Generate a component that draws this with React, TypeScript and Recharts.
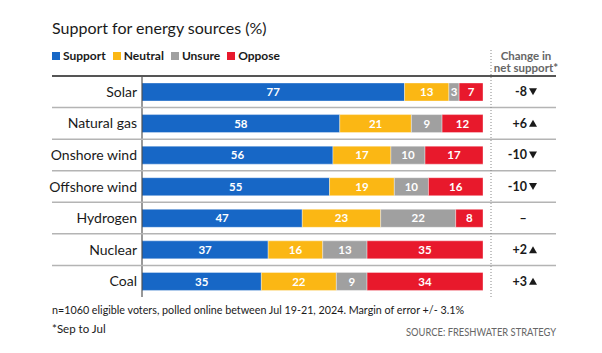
import React from "react";
import { BarChart, Bar, XAxis, YAxis, LabelList } from "recharts";

const categories = ["Solar", "Natural gas", "Onshore wind", "Offshore wind", "Hydrogen", "Nuclear", "Coal"];
const support = [77, 58, 56, 55, 47, 37, 35];
const neutral = [13, 21, 17, 19, 23, 16, 22];
const unsure = [3, 9, 10, 10, 22, 13, 9];
const oppose = [7, 12, 17, 16, 8, 35, 34];
const netChange: (number | null)[] = [-8, 6, -10, -10, null, 2, 3];

const seriesNames = ["Support", "Neutral", "Unsure", "Oppose"];
const seriesKeys = ["support", "neutral", "unsure", "oppose"];
const seriesColors = ["#1767c6", "#fbb714", "#a0a0a0", "#e8192c"];

const W = 602;
const H = 353;
const PLOT_TOP = 76;
const PLOT_BOTTOM = 297;
const PLOT_LEFT = 142;
const PLOT_RIGHT = 483;
const RULE_LEFT = 52;
const RULE_RIGHT = 556;
const ROW = (PLOT_BOTTOM - PLOT_TOP) / categories.length;
const FONT = "Lato, 'DejaVu Sans', sans-serif";

const data = categories.map((name, i) => ({
  name,
  support: support[i],
  neutral: neutral[i],
  unsure: unsure[i],
  oppose: oppose[i],
  change: netChange[i],
}));

const LeftTick = (props: any) => {
  const { y, payload, index } = props;
  const ly = y - ROW / 2;
  return (
    <g>
      {index === 0 ? (
        <line x1={RULE_LEFT} x2={RULE_RIGHT} y1={ly} y2={ly} stroke="#555" strokeWidth={2} />
      ) : (
        <line x1={RULE_LEFT} x2={RULE_RIGHT} y1={ly} y2={ly} stroke="#b4b4b4" strokeWidth={1.5} />
      )}
      <text x={PLOT_LEFT - 5} y={y + 5} textAnchor="end" fontSize={14} fill="#1a1a1a" fontFamily={FONT}>
        {payload.value}
      </text>
    </g>
  );
};

const RightTick = (props: any) => {
  const { y, index } = props;
  const v = netChange[index];
  const cx = 527;
  let content;
  if (v === null || v === undefined) {
    content = (
      <text x={523} y={y + 4.5} textAnchor="middle" fontSize={12.5} fontWeight={700} fill="#1a1a1a" fontFamily={FONT}>
        –
      </text>
    );
  } else {
    const label = v > 0 ? `+${v}` : `${v}`;
    const pts =
      v > 0
        ? `${cx + 2},${y + 3.5} ${cx + 10},${y + 3.5} ${cx + 6},${y - 3.5}`
        : `${cx + 2},${y - 3.5} ${cx + 10},${y - 3.5} ${cx + 6},${y + 3.5}`;
    content = (
      <g>
        <text x={cx} y={y + 4.5} textAnchor="end" fontSize={12.5} fontWeight={700} fill="#1a1a1a" fontFamily={FONT}>
          {label}
        </text>
        <polygon points={pts} fill="#1a1a1a" />
      </g>
    );
  }
  return (
    <g>
      {index === 0 && (
        <line x1={491} x2={491} y1={50} y2={PLOT_BOTTOM} stroke="#888" strokeWidth={1} strokeDasharray="1 2" />
      )}
      {content}
    </g>
  );
};

export default function App() {
  return (
    <div style={{ position: "absolute", left: 0, top: 0, width: W, height: H, background: "#fff", fontFamily: FONT }}>
      <BarChart
        width={W}
        height={H}
        data={data}
        layout="vertical"
        margin={{ top: PLOT_TOP, right: 0, bottom: H - PLOT_BOTTOM, left: 0 }}
      >
        <XAxis type="number" domain={[0, 100]} allowDataOverflow hide />
        <YAxis
          yAxisId="left"
          type="category"
          dataKey="name"
          width={PLOT_LEFT}
          tickLine={false}
          axisLine={{ stroke: "#333", strokeWidth: 1 }}
          tick={<LeftTick />}
          interval={0}
        />
        <YAxis
          yAxisId="right"
          orientation="right"
          type="category"
          dataKey="name"
          width={W - PLOT_RIGHT}
          tickLine={false}
          axisLine={false}
          tick={<RightTick />}
          interval={0}
        />
        {seriesKeys.map((k, i) => (
          <Bar
            key={k}
            yAxisId="left"
            dataKey={k}
            name={seriesNames[i]}
            stackId="a"
            fill={seriesColors[i]}
            barSize={18}
            stroke="#ffffff"
            strokeOpacity={0.45}
            strokeWidth={0.8}
            isAnimationActive={false}
          >
            <LabelList
              dataKey={k}
              position="center"
              fill="#ffffff"
              fontSize={11.5}
              fontWeight={700}
              fontFamily={FONT}
            />
          </Bar>
        ))}
      </BarChart>

      <div
        style={{
          position: "absolute",
          left: RULE_LEFT,
          top: 50,
          display: "flex",
          alignItems: "center",
          height: 12,
          fontSize: 12,
          lineHeight: "12px",
          fontWeight: 700,
          color: "#1a1a1a",
        }}
      >
        {seriesNames.map((n, i) => (
          <div key={n} style={{ display: "flex", alignItems: "center", marginRight: 7 }}>
            <div style={{ width: 8, height: 8, background: seriesColors[i], marginRight: 3 }} />
            <span>{n}</span>
          </div>
        ))}
      </div>

      <svg width={W} height={H} style={{ position: "absolute", left: 0, top: 0, pointerEvents: "none" }}>
        <text x={RULE_LEFT} y={34} fontSize={16} fill="#1a1a1a" fontFamily={FONT}>
          Support for energy sources (%)
        </text>
        <text x={526} y={60} textAnchor="middle" fontSize={11.5} fontWeight={700} fill="#666" fontFamily={FONT}>
          Change in
        </text>
        <text x={526} y={72} textAnchor="middle" fontSize={11.5} fontWeight={700} fill="#666" fontFamily={FONT}>
          net support*
        </text>
        <text
          x={RULE_LEFT}
          y={314}
          fontSize={11.5}
          fill="#1a1a1a"
          fontFamily={FONT}
          textLength={412}
          lengthAdjust="spacingAndGlyphs"
        >
          n=1060 eligible voters, polled online between Jul 19-21, 2024. Margin of error +/- 3.1%
        </text>
        <text x={RULE_LEFT} y={333} fontSize={11.5} fill="#1a1a1a" fontFamily={FONT}>
          *Sep to Jul
        </text>
        <text
          x={RULE_RIGHT}
          y={336}
          textAnchor="end"
          fontSize={11.5}
          fill="#666"
          fontFamily={FONT}
          textLength={150}
          lengthAdjust="spacingAndGlyphs"
        >
          SOURCE: FRESHWATER STRATEGY
        </text>
      </svg>
    </div>
  );
}
